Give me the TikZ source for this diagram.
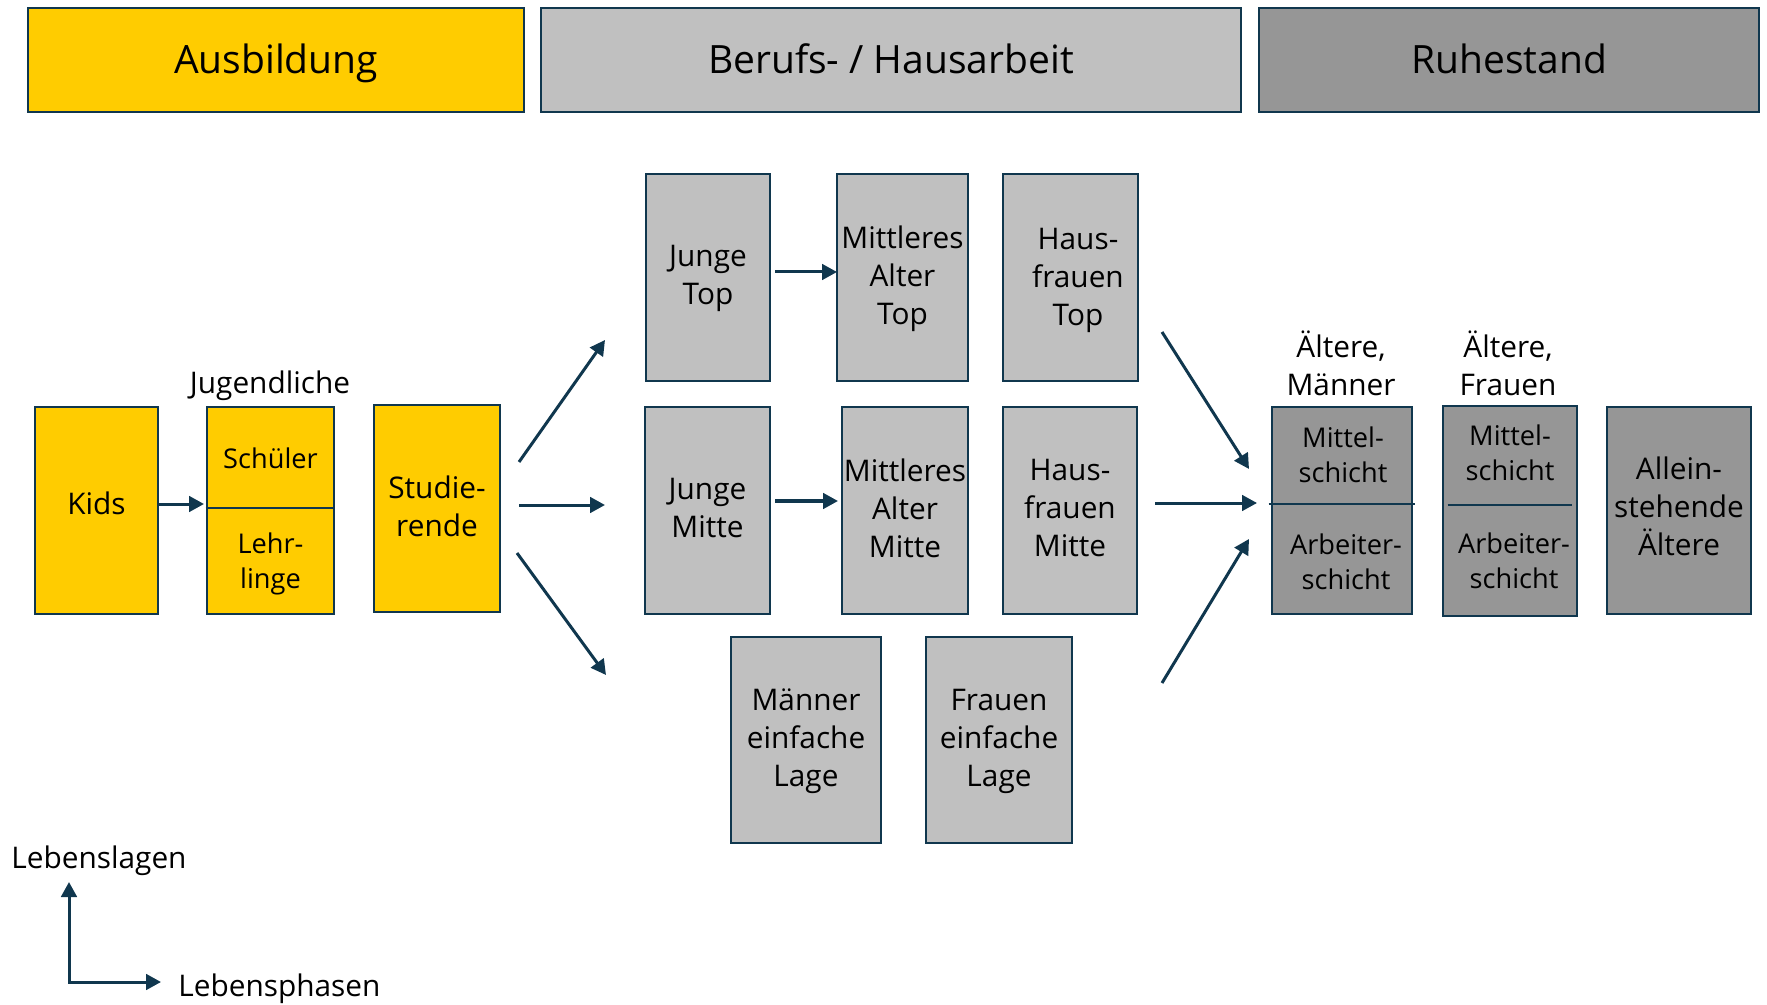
\documentclass[tikz,border=0pt]{standalone}
\usepackage{fontspec}
\setmainfont{Open Sans}
\usetikzlibrary{arrows.meta,calc}
\definecolor{gelb}{RGB}{255,204,0}
\definecolor{hellgrau}{RGB}{192,192,192}
\definecolor{dunkelgrau}{RGB}{150,150,150}
\definecolor{rand}{RGB}{16,55,78}
\newcommand{\titelschrift}{\fontsize{19.5}{24}\selectfont}
\newcommand{\normalschrift}{\fontsize{14.9}{19}\selectfont}
\newcommand{\kleinschrift}{\fontsize{13.6}{17.5}\selectfont}
\begin{document}
\begin{tikzpicture}[x=0.5pt,y=-0.5pt,
  every node/.style={inner sep=0pt, align=center, text=black, font=\normalschrift, text depth=2.2pt},
  kasten/.style={draw=rand, line width=1.4pt},
  gelbkasten/.style={kasten, fill=gelb},
  hellkasten/.style={kasten, fill=hellgrau},
  dunkelkasten/.style={kasten, fill=dunkelgrau},
  hoch/.style={minimum height=103.5pt},
  titel/.style={minimum height=52pt, font=\titelschrift, text height=14pt, text depth=0pt},
  klein/.style={font=\kleinschrift},
  teiler/.style={draw=rand, line width=1.3pt},
  pfeil/.style={draw=rand, line width=1.5pt, -{Triangle[length=7.5pt,width=7.8pt]}}
]
\useasboundingbox (0,0) rectangle (1767,1005);

% Phasen
\node[gelbkasten, titel, minimum width=248pt] (ausb) at (276,60) {Ausbildung};
\node[hellkasten, titel, minimum width=350pt] (beruf) at (891,60) {Berufs- / Hausarbeit};
\node[dunkelkasten, titel, minimum width=250pt] (ruhe) at (1509,60) {Ruhestand};

% Ausbildung
\node[gelbkasten, hoch, minimum width=61.5pt, text depth=7pt] (kids) at (96.5,510.5) {Kids};
\node[gelbkasten, hoch, minimum width=63.5pt] (jug) at (270.5,510.5) {};
\coordinate (jugteil) at (270.5,508);
\draw[teiler] (jug.west |- jugteil) -- (jug.east |- jugteil);
\node[klein] (schueler) at (270.5,460) {Schüler};
\node[klein] (lehrlinge) at (270.5,563) {Lehr-\\linge};
\node (jugtitel) at (270,384) {Jugendliche};
\node[gelbkasten, hoch, minimum width=63pt] (stud) at (437,508.5) {Studie-\\rende};

% Berufs- / Hausarbeit
\node[hellkasten, hoch, minimum width=62pt] (jt) at (708,277.5) {Junge\\Top};
\node[hellkasten, hoch, minimum width=65.5pt] (mat) at (902.5,277.5) {Mittleres\\Alter\\Top};
\node[hellkasten, hoch, minimum width=67.5pt] (hft) at (1070.5,277.5) {};
\node (hfttext) at (1078,279) {Haus-\\frauen\\Top};
\node[hellkasten, hoch, minimum width=62.5pt] (jm) at (707.5,510.5) {Junge\\Mitte};
\node[hellkasten, hoch, minimum width=63pt] (mam) at (905,510.5) {Mittleres\\Alter\\Mitte};
\node[hellkasten, hoch, minimum width=67pt] (hfm) at (1070,510.5) {Haus-\\frauen\\Mitte};
\node[hellkasten, minimum height=103pt, minimum width=75pt] (mel) at (806,740) {Männer\\einfache\\Lage};
\node[hellkasten, minimum height=103pt, minimum width=73pt] (fel) at (999,740) {Frauen\\einfache\\Lage};

% Ruhestand
\node[dunkelkasten, hoch, minimum width=70pt] (am) at (1342,510.5) {};
\coordinate (amteil) at (1342,504);
\draw[teiler] ([xshift=-1pt]am.west |- amteil) -- ([xshift=1pt]am.east |- amteil);
\node[klein] (amoben) at (1343,457) {Mittel-\\schicht};
\node[klein] (amunten) at (1346,564) {Arbeiter-\\schicht};
\node (amtitel) at (1341,365) {Ältere,\\Männer};

\node[dunkelkasten, minimum height=105pt, minimum width=67pt] (af) at (1510,511) {};
\coordinate (afteil) at (1510,505);
\draw[teiler] ([xshift=3pt]af.west |- afteil) -- ([xshift=-3pt]af.east |- afteil);
\node[klein] (afoben) at (1510,455) {Mittel-\\schicht};
\node[klein] (afunten) at (1514,563) {Arbeiter-\\schicht};
\node (aftitel) at (1508,365) {Ältere,\\Frauen};

\node[dunkelkasten, hoch, minimum width=72pt] (allein) at (1679,510.5) {};
\node (alleintext) at (1679,508) {Allein-\\stehende\\Ältere};

% Übergänge
\coordinate (kidsaus) at (158,504);
\coordinate (jugein) at (204,504);
\draw[pfeil] (kidsaus) -- (jugein);

\coordinate (studa) at (519,462);
\coordinate (studb) at (519,505);
\coordinate (studc) at (517,553);
\coordinate (obenein) at (605,340);
\coordinate (mitteein) at (605,505);
\coordinate (untenein) at (606,675);
\draw[pfeil] (studa) -- (obenein);
\draw[pfeil] (studb) -- (mitteein);
\draw[pfeil] (studc) -- (untenein);

\coordinate (jtaus) at (775,272);
\coordinate (matein) at (837,272);
\draw[pfeil] (jtaus) -- (matein);
\coordinate (jmaus) at (775,501);
\coordinate (mamein) at (838,501);
\draw[pfeil] (jmaus) -- (mamein);

\coordinate (hfa) at (1162,332);
\coordinate (hfb) at (1155,503);
\coordinate (hfc) at (1162,683);
\coordinate (ruhea) at (1249,469);
\coordinate (ruheb) at (1257,503);
\coordinate (ruhec) at (1249,539);
\draw[pfeil] (hfa) -- (ruhea);
\draw[pfeil] (hfb) -- (ruheb);
\draw[pfeil] (hfc) -- (ruhec);

% Achsen
\coordinate (ursprung) at (69,982);
\coordinate (lagenspitze) at (69,882);
\coordinate (phasenspitze) at (161,982);
\draw[draw=rand, line width=1.5pt, line join=miter,
      {Triangle[length=7.5pt,width=7.8pt]}-{Triangle[length=7.5pt,width=7.8pt]}]
  (lagenspitze) -- (ursprung) -- (phasenspitze);
\node[anchor=west] (lagen) at (11,859) {Lebenslagen};
\node[anchor=west] (phasen) at (178,987) {Lebensphasen};
\end{tikzpicture}
\end{document}
